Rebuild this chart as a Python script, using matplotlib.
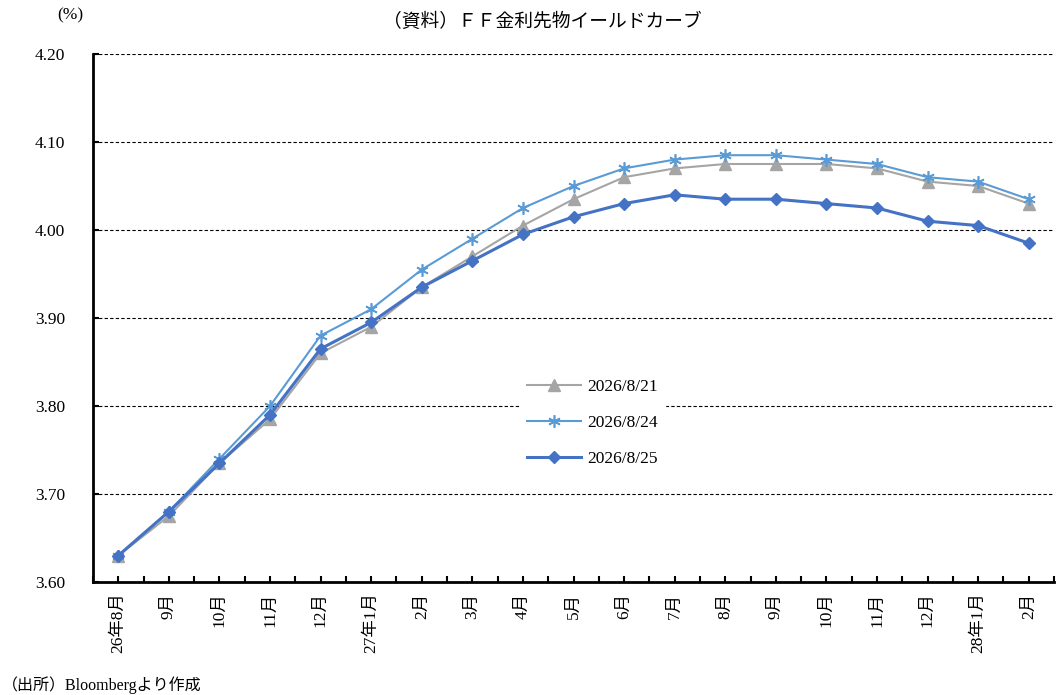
import matplotlib
matplotlib.use("Agg")
import matplotlib.pyplot as plt
import numpy as np

plt.rcParams['font.family'] = ['Liberation Serif', 'Noto Sans CJK JP', 'DejaVu Sans']

categories = ["26年8月", "9月", "10月", "11月", "12月", "27年1月", "2月", "3月", "4月",
              "5月", "6月", "7月", "8月", "9月", "10月", "11月", "12月", "28年1月", "2月"]
s0821 = [3.630, 3.675, 3.735, 3.785, 3.860, 3.890, 3.935, 3.970, 4.005, 4.035,
         4.060, 4.070, 4.075, 4.075, 4.075, 4.070, 4.055, 4.050, 4.030]
s0824 = [3.630, 3.680, 3.740, 3.800, 3.880, 3.910, 3.955, 3.990, 4.025, 4.050,
         4.070, 4.080, 4.085, 4.085, 4.080, 4.075, 4.060, 4.055, 4.035]
s0825 = [3.630, 3.680, 3.735, 3.790, 3.865, 3.895, 3.935, 3.965, 3.995, 4.015,
         4.030, 4.040, 4.035, 4.035, 4.030, 4.025, 4.010, 4.005, 3.985]
series_labels = ["2026/8/21", "2026/8/24", "2026/8/25"]
yticks = [3.60, 3.70, 3.80, 3.90, 4.00, 4.10, 4.20]

fig = plt.figure(figsize=(10.6, 6.95), dpi=100)
ax = fig.add_axes([93/1060, 1-582/695, (1054-93)/1060, (582-54)/695])

x = np.arange(len(categories))
ax.plot(x, s0821, color='#A5A5A5', lw=1.5, marker='^', ms=8, label=series_labels[0], zorder=3)
ax.plot(x, s0824, color='#5B9BD5', lw=1.5, marker=(6, 2, 0), ms=9, mew=1.2, label=series_labels[1], zorder=4)
ax.plot(x, s0825, color='#4472C4', lw=2.2, marker='D', ms=6.5, label=series_labels[2], zorder=5)

ax.set_xlim(-0.5, len(categories) - 0.5)
ax.set_ylim(3.60, 4.20)
ax.set_yticks(yticks)
ax.set_yticklabels([f"{v:.2f}" for v in yticks], fontsize=12.5)
for v in yticks[1:]:
    ax.axhline(v, color='black', lw=0.8, ls=(0, (3, 2)), zorder=1)

ax.set_xticks(np.arange(-0.5, len(categories), 0.5))
ax.set_xticklabels([])
ax.tick_params(axis='x', direction='in', length=4, width=1.5)
ax.tick_params(axis='y', direction='in', length=4, width=1.5, pad=20)
for i, lab in enumerate(categories):
    ax.text(i, 3.60 - 0.012, lab, rotation=90, ha='center', va='top', fontsize=12.5,
            transform=ax.transData)

for s in ['top', 'right']:
    ax.spines[s].set_visible(False)
ax.spines['left'].set_linewidth(2)
ax.spines['bottom'].set_linewidth(2)

leg = ax.legend(loc='center', bbox_to_anchor=(0.52, 0.301), frameon=True, fontsize=12.5,
                handlelength=3.1, handletextpad=0.35, labelspacing=1.15, borderpad=0.4)
leg.get_frame().set_edgecolor('white')
leg.get_frame().set_facecolor('white')
leg.get_frame().set_alpha(1)
leg.set_zorder(10)

fig.text(542/1060, 1-22/695, "（資料）ＦＦ金利先物イールドカーブ", ha='center', va='center', fontsize=13.5)
fig.text(70/1060, 1-15/695, "(%)", ha='center', va='center', fontsize=12.5)
fig.text(2/1060, 1-685/695, "（出所）Bloombergより作成", ha='left', va='center', fontsize=11.5)

fig.savefig("out.png", dpi=100)
